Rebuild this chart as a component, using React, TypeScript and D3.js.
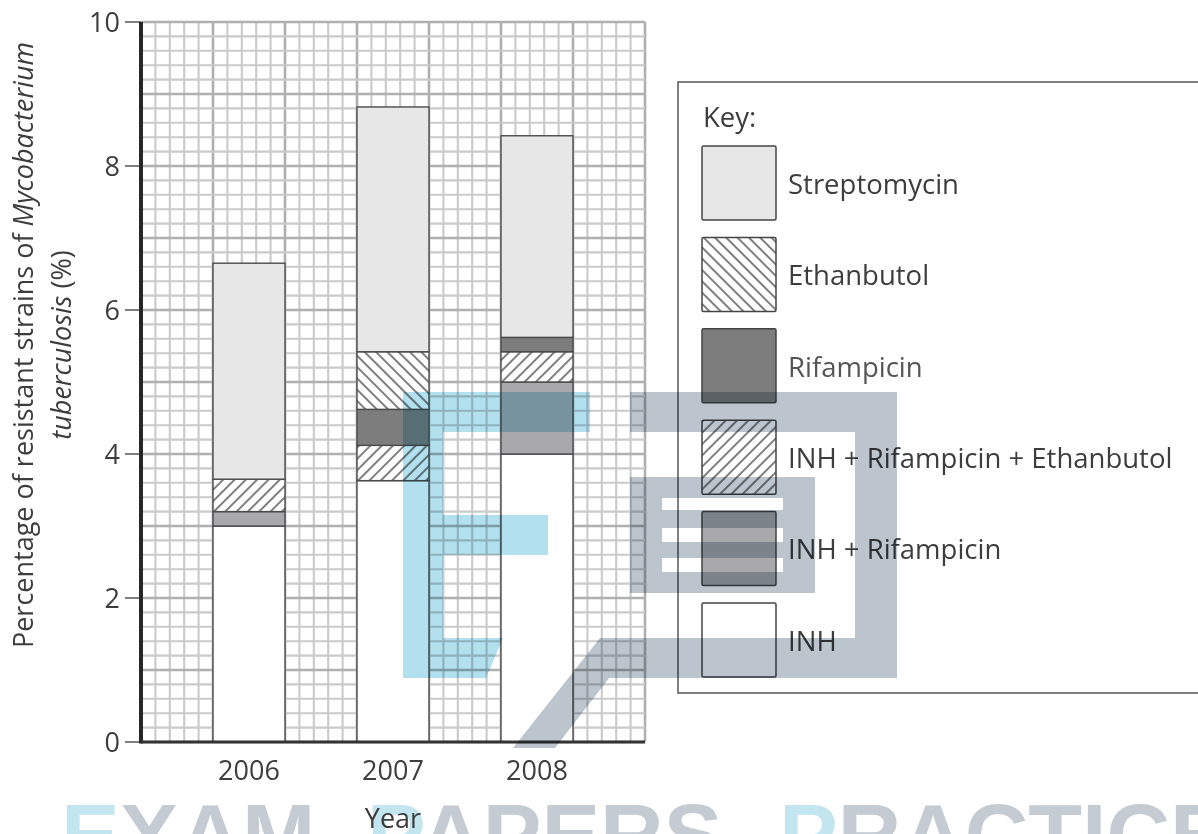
import { useEffect, useRef } from "react";
import * as d3 from "d3";

// data (percentage points of each segment, stacked bottom -> top)
const years = ["2006", "2007", "2008"];
const keys = ["INH", "INH + Rifampicin", "INH + Rifampicin + Ethanbutol", "Rifampicin", "Ethanbutol", "Streptomycin"];
const inh = [3.0, 3.63, 4.0];
const inhRif = [0.2, 0, 1.0];
const inhRifEth = [0.45, 0.49, 0.42];
const rif = [0, 0.5, 0.2];
const eth = [0, 0.8, 0];
const strep = [3.0, 3.4, 2.8];
const yTicks = [0, 2, 4, 6, 8, 10];
const legendOrder = ["Streptomycin", "Ethanbutol", "Rifampicin", "INH + Rifampicin + Ethanbutol", "INH + Rifampicin", "INH"];

const fills: Record<string, string> = {
  "INH": "#ffffff",
  "INH + Rifampicin": "#a9a9ab",
  "INH + Rifampicin + Ethanbutol": "url(#hatchFwd)",
  "Rifampicin": "#7d7d7d",
  "Ethanbutol": "url(#hatchBack)",
  "Streptomycin": "#e7e7e7",
};

const FONT = "'Open Sans', 'Noto Sans', sans-serif";
const TXT = "#3d3d3d";

const App = () => {
  const svgRef = useRef<SVGSVGElement>(null);

  useEffect(() => {
    const svg = d3.select(svgRef.current);
    svg.selectAll("*").remove();
    const W = 1198;
    const H = 834;
    const margin = { top: 22, left: 141, right: 553, bottom: 92 };

    const x = d3
      .scaleBand()
      .domain(years)
      .range([margin.left, W - margin.right])
      .padding(0.5);
    const y = d3.scaleLinear().domain([0, 10]).range([H - margin.bottom, margin.top]);

    const defs = svg.append("defs");
    const hatch = (id: string, angle: number) => {
      const p = defs
        .append("pattern")
        .attr("id", id)
        .attr("patternUnits", "userSpaceOnUse")
        .attr("width", 8)
        .attr("height", 8)
        .attr("patternTransform", `rotate(${angle})`);
      p.append("rect").attr("width", 8).attr("height", 8).attr("fill", "#fff");
      p.append("line").attr("x1", 1).attr("y1", 0).attr("x2", 1).attr("y2", 8).attr("stroke", "#3a3a3a").attr("stroke-width", 1.3);
    };
    hatch("hatchFwd", 45);
    hatch("hatchBack", -45);

    // graph paper background
    const gx = d3.scaleLinear().domain([0, 35]).range(x.range());
    const grid = svg.append("g");
    grid
      .selectAll(".vline")
      .data(d3.range(0, 36))
      .enter()
      .append("line")
      .attr("x1", (d) => gx(d))
      .attr("x2", (d) => gx(d))
      .attr("y1", y(10))
      .attr("y2", y(0))
      .attr("stroke", (d) => (d % 5 === 0 ? "#b0b0b0" : "#cacaca"))
      .attr("stroke-width", (d) => (d % 5 === 0 ? 2.6 : 2.1));
    grid
      .selectAll(".hline")
      .data(d3.range(0, 51))
      .enter()
      .append("line")
      .attr("x1", gx(0))
      .attr("x2", gx(35))
      .attr("y1", (d) => y(d / 5))
      .attr("y2", (d) => y(d / 5))
      .attr("stroke", (d) => (d % 5 === 0 ? "#b0b0b0" : "#cacaca"))
      .attr("stroke-width", (d) => (d % 5 === 0 ? 2.6 : 2.1));

    // stacked bars
    const table = years.map((yr, i) => ({
      year: yr,
      "INH": inh[i],
      "INH + Rifampicin": inhRif[i],
      "INH + Rifampicin + Ethanbutol": inhRifEth[i],
      "Rifampicin": rif[i],
      "Ethanbutol": eth[i],
      "Streptomycin": strep[i],
    }));
    const series = d3.stack<any>().keys(keys)(table);
    series.forEach((s) => {
      svg
        .append("g")
        .selectAll("rect")
        .data(s.filter((d) => d[1] - d[0] > 0))
        .enter()
        .append("rect")
        .attr("x", (d) => x(d.data.year)!)
        .attr("y", (d) => y(d[1]))
        .attr("width", x.bandwidth())
        .attr("height", (d) => y(d[0]) - y(d[1]))
        .attr("fill", fills[s.key])
        .attr("stroke", "#4a4a4a")
        .attr("stroke-width", 1.4);
    });

    // axes
    const axis = svg.append("g");
    axis
      .selectAll(".tick")
      .data(yTicks)
      .enter()
      .append("line")
      .attr("x1", margin.left - 16)
      .attr("x2", margin.left)
      .attr("y1", (d) => y(d))
      .attr("y2", (d) => y(d))
      .attr("stroke", "#555")
      .attr("stroke-width", 1.5);
    axis
      .append("line")
      .attr("x1", margin.left)
      .attr("x2", margin.left)
      .attr("y1", y(10))
      .attr("y2", y(0) + 1.5)
      .attr("stroke", "#262626")
      .attr("stroke-width", 4);
    axis
      .append("line")
      .attr("x1", margin.left)
      .attr("x2", gx(35))
      .attr("y1", y(0))
      .attr("y2", y(0))
      .attr("stroke", "#333")
      .attr("stroke-width", 3);

    // watermark text (behind the labels)
    const wt = svg
      .append("text")
      .attr("font-family", "'Liberation Sans', Arial, sans-serif")
      .attr("font-weight", "bold")
      .attr("font-size", 88)
      .attr("y", 865);
    [
      { t: "E", x: 61, c: "#c2e5f0" },
      { t: "XAM", c: "#c4cbd2" },
      { t: "P", x: 367, c: "#c2e5f0" },
      { t: "APERS", c: "#c4cbd2" },
      { t: "P", x: 779, c: "#c2e5f0" },
      { t: "RACTICE", c: "#c4cbd2" },
    ].forEach((w) => {
      const ts = wt.append("tspan").attr("fill", w.c).text(w.t);
      if (w.x !== undefined) ts.attr("x", w.x);
    });

    const labels = svg.append("g").attr("font-family", FONT).attr("fill", TXT);
    labels
      .selectAll(".ylab")
      .data(yTicks)
      .enter()
      .append("text")
      .attr("x", margin.left - 21)
      .attr("y", (d) => y(d))
      .attr("dy", "0.36em")
      .attr("text-anchor", "end")
      .attr("font-size", 27)
      .text((d) => d);
    labels
      .selectAll(".xlab")
      .data(years)
      .enter()
      .append("text")
      .attr("x", (d) => x(d)! + x.bandwidth() / 2)
      .attr("y", 780)
      .attr("text-anchor", "middle")
      .attr("font-size", 27)
      .text((d) => d);
    labels
      .append("text")
      .attr("x", x("2007")! + x.bandwidth() / 2)
      .attr("y", 828)
      .attr("text-anchor", "middle")
      .attr("font-size", 27)
      .text("Year");

    // y title, two lines with italic species name
    const yt = labels
      .append("text")
      .attr("transform", "translate(33,345) rotate(-90)")
      .attr("text-anchor", "middle")
      .attr("font-size", 27);
    yt.append("tspan").text("Percentage of resistant strains of ");
    yt.append("tspan").attr("font-style", "italic").text("Mycobacterium");
    const yt2 = labels
      .append("text")
      .attr("transform", "translate(71,345) rotate(-90)")
      .attr("text-anchor", "middle")
      .attr("font-size", 27);
    yt2.append("tspan").attr("font-style", "italic").text("tuberculosis");
    yt2.append("tspan").text(" (%)");

    // legend
    const lg = svg.append("g").attr("font-family", FONT);
    lg.append("rect")
      .attr("x", 678)
      .attr("y", 82)
      .attr("width", 560)
      .attr("height", 611)
      .attr("fill", "none")
      .attr("stroke", "#555")
      .attr("stroke-width", 1.5);
    lg.append("text").attr("x", 703).attr("y", 127).attr("font-size", 27.5).attr("fill", TXT).text("Key:");
    const item = lg
      .selectAll(".item")
      .data(legendOrder)
      .enter()
      .append("g")
      .attr("transform", (d, i) => `translate(702,${146 + i * 91.4})`);
    item
      .append("rect")
      .attr("width", 74)
      .attr("height", 74)
      .attr("rx", 1.5)
      .attr("fill", (d) => fills[d])
      .attr("stroke", "#444")
      .attr("stroke-width", 1.5);
    item
      .append("text")
      .attr("x", 86)
      .attr("y", 38)
      .attr("dy", "0.36em")
      .attr("font-size", 27.5)
      .attr("fill", (d) => (d === "Rifampicin" ? "#555" : TXT))
      .text((d) => d);

    // watermark logo, laid over chart and legend (decoration)
    const wm = svg.append("g");
    wm.append("path")
      .attr("d", "M403,392H590V432H443V515H548V555H443V638H503L486,678H403Z")
      .attr("fill", "#b3e0ee")
      .style("mix-blend-mode", "multiply");
    wm.append("path")
      .attr(
        "d",
        "M630,392H897V678H600V638H855V432H630Z" +
          "M600,638H640L555,748H513Z" +
          "M630,477H815V498H630Z M630,510H815V528H630Z M630,542H815V558H630Z M630,572H815V593H630Z" +
          "M630,477H662V593H630Z M783,477H815V593H783Z"
      )
      .attr("fill", "#bcc5ce")
      .style("mix-blend-mode", "multiply");
  }, []);

  return (
    <svg
      ref={svgRef}
      width={1198}
      height={834}
      style={{ position: "absolute", left: 0, top: 0, background: "#fff" }}
    ></svg>
  );
};

export default App;
